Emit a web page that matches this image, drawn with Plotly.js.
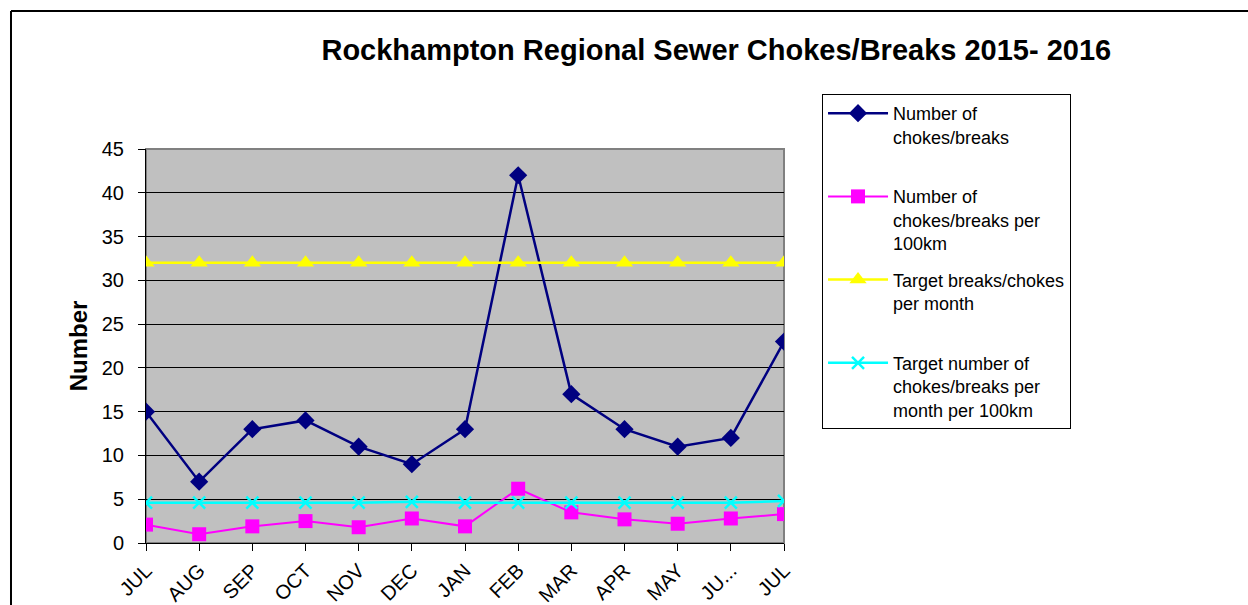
<!DOCTYPE html>
<html>
<head>
<meta charset="utf-8">
<script src="https://cdn.plot.ly/plotly-3.0.1.min.js"></script>
<style>html,body{margin:0;padding:0;background:#fff;}#chart{width:1248px;height:605px;}</style>
</head>
<body>
<div id="chart"></div>
<script>
// ---- data ----
const months = ["JUL","AUG","SEP","OCT","NOV","DEC","JAN","FEB","MAR","APR","MAY","JU...","JUL"];
const chokesBreaks = [15, 7, 13, 14, 11, 9, 13, 42, 17, 13, 11, 12, 23];
const chokesPer100km = [2.1, 1.0, 1.9, 2.5, 1.8, 2.8, 1.9, 6.2, 3.5, 2.7, 2.2, 2.8, 3.3];
const targetPerMonth = [32, 32, 32, 32, 32, 32, 32, 32, 32, 32, 32, 32, 32];
const targetPer100km = [4.6, 4.6, 4.6, 4.6, 4.6, 4.7, 4.6, 4.6, 4.6, 4.6, 4.6, 4.6, 4.8];
const seriesNames = [
  "Number of<br>chokes/breaks<br> ",
  "Number of<br>chokes/breaks per<br>100km",
  "Target breaks/chokes<br>per month<br> ",
  "Target number of<br>chokes/breaks per<br>month per 100km"
];

const xIdx = months.map((_, i) => i);
const FONT = "Liberation Sans, Arial, sans-serif";

const traces = [
  {x: xIdx, y: chokesBreaks, name: seriesNames[0], legendgroup: "a", mode: "lines+markers",
   line: {color: "#000080", width: 2.5}, marker: {symbol: "diamond", size: 14, color: "#000080"}},
  {x: xIdx, y: chokesPer100km, name: seriesNames[1], legendgroup: "b", mode: "lines+markers",
   line: {color: "#FF00FF", width: 2}, marker: {symbol: "square", size: 14, color: "#FF00FF"}},
  {x: xIdx, y: targetPerMonth, name: seriesNames[2], legendgroup: "c", mode: "lines+markers",
   line: {color: "#FFFF00", width: 2.5}, marker: {symbol: "triangle-up", size: 15, color: "#FFFF00"}},
  {x: xIdx, y: targetPer100km, name: seriesNames[3], legendgroup: "d", mode: "lines+markers",
   line: {color: "#00FFFF", width: 2.5}, marker: {symbol: "x-thin", size: 12, color: "#00FFFF", line: {color: "#00FFFF", width: 2.5}}}
];

const layout = {
  width: 1248, height: 605,
  margin: {l: 146, r: 464, t: 149, b: 62},
  paper_bgcolor: "#ffffff",
  plot_bgcolor: "#C0C0C0",
  font: {family: FONT, color: "#000"},
  title: {text: "<b>Rockhampton Regional Sewer Chokes/Breaks 2015- 2016</b>",
          x: 0.574, xanchor: "center", y: 0.917, yanchor: "middle", xref: "container", yref: "container",
          font: {family: FONT, size: 29, color: "#000"}},
  xaxis: {
    range: [0, 12], tickmode: "array", tickvals: xIdx, ticktext: months,
    tickangle: -45, ticks: "outside", ticklen: 7, tickcolor: "#000",
    showline: true, linecolor: "#000", linewidth: 1, showgrid: false, zeroline: false,
    tickfont: {size: 20, family: FONT}
  },
  yaxis: {
    range: [0, 45], dtick: 5, ticks: "outside", ticklen: 7, tickcolor: "#000",
    showline: true, linecolor: "#000", linewidth: 1,
    showgrid: true, gridcolor: "#000", gridwidth: 1, zeroline: false,
    tickfont: {size: 20, family: FONT}, ticklabelstandoff: 10,
    title: {text: "<b>Number</b>", font: {size: 24, family: FONT}, standoff: 7}
  },
  legend: {
    x: 1.0596, y: 1.1396, xanchor: "left", yanchor: "top",
    bordercolor: "#000", borderwidth: 1, bgcolor: "#fff",
    font: {size: 18, family: FONT, color: "#000"},
    valign: "top", tracegroupgap: 10, traceorder: "grouped",
    itemwidth: 60, maxheight: 450
  },
  shapes: [
    {type: "rect", xref: "paper", yref: "paper", x0: 0, x1: 1, y0: 0, y1: 1,
     line: {color: "#808080", width: 2}, layer: "below"},
    {type: "line", xref: "paper", yref: "paper", x0: -0.2116, x1: 1.73, y0: 1.3503, y1: 1.3503,
     line: {color: "#000", width: 2}},
    {type: "line", xref: "paper", yref: "paper", x0: -0.2116, x1: -0.2116, y0: 1.3503, y1: -0.2,
     line: {color: "#000", width: 2}}
  ],
  showlegend: true
};

Plotly.newPlot("chart", traces, layout, {displayModeBar: false, responsive: false});
</script>
</body>
</html>
